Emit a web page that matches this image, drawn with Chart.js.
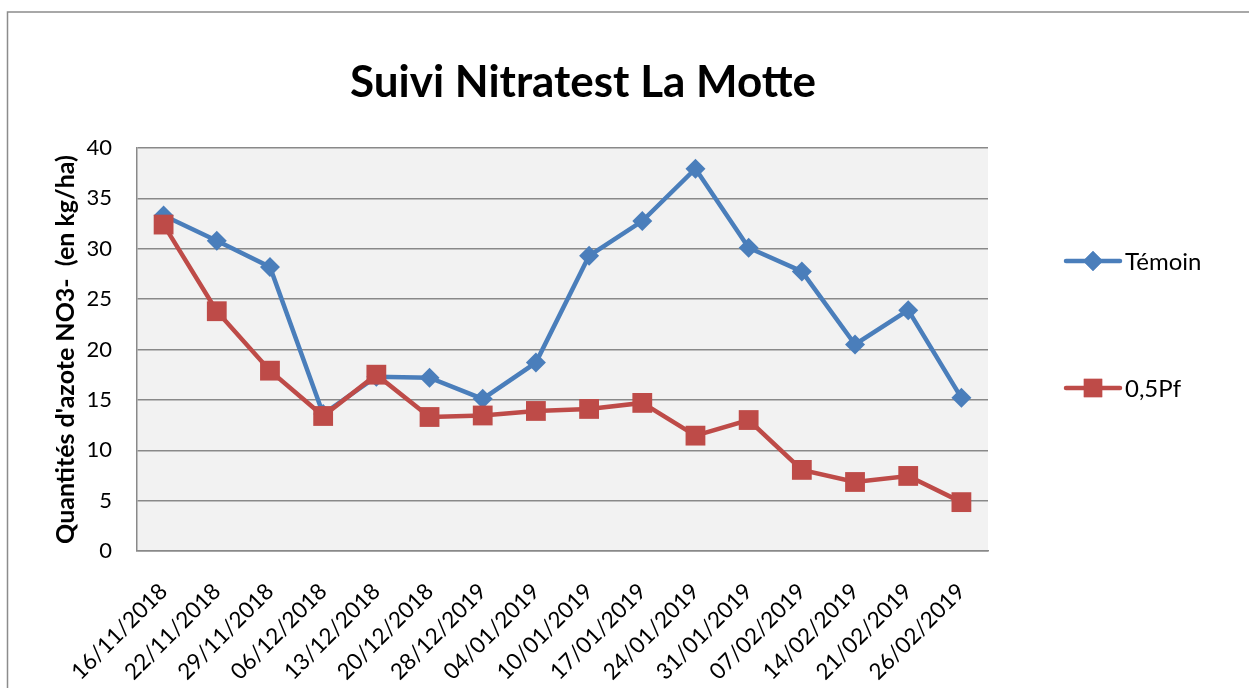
<!DOCTYPE html>
<html><head><meta charset="utf-8">
<script src="https://cdn.jsdelivr.net/npm/chart.js@4.4.1/dist/chart.umd.min.js"></script>
<style>html,body{margin:0;padding:0;background:#fff}</style>
</head><body>
<canvas id="c" width="1249" height="688" style="display:block;width:1249px;height:688px"></canvas>
<script>
const categories = ['16/11/2018','22/11/2018','29/11/2018','06/12/2018','13/12/2018','20/12/2018','28/12/2019','04/01/2019','10/01/2019','17/01/2019','24/01/2019','31/01/2019','07/02/2019','14/02/2019','21/02/2019','26/02/2019'];
const temoin = [33.3, 30.8, 28.2, 13.6, 17.3, 17.2, 15.1, 18.7, 29.3, 32.75, 37.95, 30.1, 27.75, 20.5, 23.9, 15.2];
const pf05 = [32.4, 23.8, 17.9, 13.4, 17.5, 13.3, 13.45, 13.9, 14.1, 14.7, 11.45, 13.0, 8.05, 6.85, 7.45, 4.85];
const seriesNames = ['Témoin', '0,5Pf'];
const yMin = 0, yMax = 40, yStep = 5;
const titleText = 'Suivi Nitratest La Motte';
const yTitle = "Quantités d'azote NO3-  (en kg/ha)";

const BLUE = '#4A7EBB', RED = '#BE4B48', GRID = '#898989';
const FONT = 'Lato';

const decor = {
  id: 'decor',
  beforeDraw(chart) {
    const {ctx, chartArea: a} = chart;
    ctx.save();
    ctx.fillStyle = '#F2F2F2';
    ctx.fillRect(a.left, a.top, a.right - a.left, a.bottom - a.top);
    ctx.strokeStyle = '#8c8c8c';
    ctx.lineWidth = 1.5;
    ctx.beginPath();
    ctx.moveTo(7.5, 688); ctx.lineTo(7.5, 12); ctx.lineTo(1249, 12);
    ctx.stroke();
    ctx.restore();
  },
  afterDraw(chart) {
    const {ctx} = chart;
    ctx.save();
    ctx.fillStyle = '#000';
    ctx.font = 'bold 44px ' + FONT;
    ctx.textAlign = 'center';
    ctx.textBaseline = 'alphabetic';
    ctx.fillText(titleText, 583, 97);
    // legend
    const items = [
      {name: seriesNames[0], color: BLUE, style: 'rectRot', r: 10, y: 261},
      {name: seriesNames[1], color: RED, style: 'rect', r: 13, y: 388}
    ];
    items.forEach(it => {
      ctx.strokeStyle = it.color;
      ctx.lineWidth = 4.5;
      ctx.lineCap = 'round';
      ctx.beginPath(); ctx.moveTo(1066, it.y); ctx.lineTo(1120, it.y); ctx.stroke();
      ctx.fillStyle = it.color;
      Chart.helpers.drawPoint(ctx, {pointStyle: it.style, radius: it.r, borderWidth: 0}, 1093, it.y);
      ctx.fill();
      ctx.fillStyle = '#000';
      ctx.font = '24px ' + FONT;
      ctx.textAlign = 'left';
      ctx.textBaseline = 'middle';
      ctx.fillText(it.name, 1125, it.y + 1);
    });
    ctx.restore();
  }
};

new Chart(document.getElementById('c'), {
  type: 'line',
  data: {
    labels: categories,
    datasets: [
      {label: seriesNames[0], data: temoin, borderColor: BLUE, backgroundColor: BLUE, borderWidth: 4.5,
       pointStyle: 'rectRot', pointRadius: 10, pointBorderWidth: 0, pointBackgroundColor: BLUE, tension: 0, order: 2},
      {label: seriesNames[1], data: pf05, borderColor: RED, backgroundColor: RED, borderWidth: 4.5,
       pointStyle: 'rect', pointRadius: 14, pointBorderWidth: 0, pointBackgroundColor: RED, tension: 0, order: 1}
    ]
  },
  options: {
    responsive: false,
    animation: false,
    devicePixelRatio: 1,
    layout: {padding: {left: 0, top: 148, right: 261, bottom: 0}},
    plugins: {legend: {display: false}, title: {display: false}, tooltip: {enabled: false}},
    scales: {
      x: {
        offset: true,
        grid: {display: false, drawTicks: false},
        border: {display: true, color: GRID, width: 1.5},
        ticks: {color: '#000', font: {family: FONT, size: 22.5}, minRotation: 45, maxRotation: 45, padding: 27, autoSkip: false},
        afterFit(s) { s.height = 137; }
      },
      y: {
        min: yMin, max: yMax,
        grid: {color: GRID, lineWidth: 1.5, drawTicks: false},
        border: {display: true, color: GRID, width: 1.5},
        ticks: {stepSize: yStep, color: '#000', font: {family: FONT, size: 22}, padding: 25},
        title: {display: true, text: yTitle, color: '#000', font: {family: FONT, size: 25, weight: 'bold'}, padding: {top: 51, bottom: 0}},
        afterFit(s) { s.width = 137; }
      }
    }
  },
  plugins: [decor]
});
</script>
</body></html>
